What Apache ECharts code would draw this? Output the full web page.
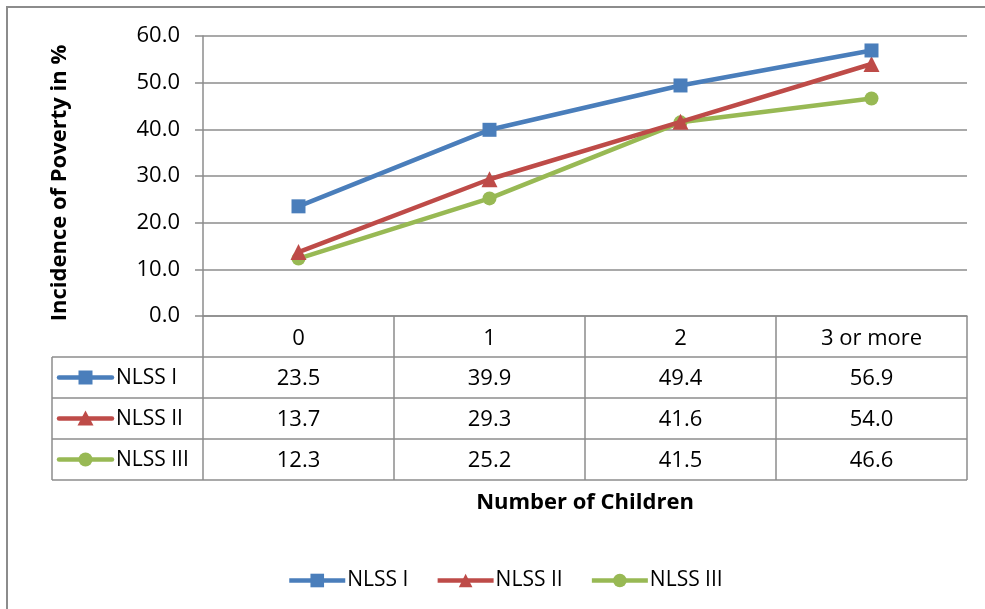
<!DOCTYPE html>
<html>
<head>
<meta charset="utf-8">
<script src="https://cdn.jsdelivr.net/npm/echarts@6/dist/echarts.min.js"></script>
<style>
  html, body { margin: 0; padding: 0; background: #ffffff; }
  #chart { width: 985px; height: 609px; }
</style>
</head>
<body>
<div id="chart"></div>
<script>
// Poverty incidence by number of children, three survey rounds
const categories = ['0', '1', '2', '3 or more'];
const seriesNames = ['NLSS I', 'NLSS II', 'NLSS III'];
const nlss1 = [23.5, 39.9, 49.4, 56.9];
const nlss2 = [13.7, 29.3, 41.6, 54.0];
const nlss3 = [12.3, 25.2, 41.5, 46.6];
const yTicks = [0, 10, 20, 30, 40, 50, 60];

const seriesValues = [nlss1, nlss2, nlss3];
const colors = ['#4A7EBB', '#BE4B48', '#98B954'];
const symbols = ['rect', 'triangle', 'circle'];
const FONT = '"Open Sans", Lato, sans-serif';
const FS = 22;
const FS_BOLD = 22;
const GRID_COLOR = '#8c8c8c';

const chart = echarts.init(document.getElementById('chart'), null, { renderer: 'canvas' });

const grid = { left: 203, right: 18, top: 36, bottom: 293 };

const option = {
  animation: false,
  backgroundColor: '#ffffff',
  textStyle: { fontFamily: FONT },
  grid: grid,
  legend: {
    data: seriesNames,
    left: 282,
    top: 565,
    itemWidth: 56,
    itemHeight: 17,
    itemGap: 27,
    lineStyle: { width: 4.5 },
    textStyle: { fontSize: 21, color: '#000', fontFamily: FONT, padding: [0, 0, 0, -3] }
  },
  xAxis: {
    type: 'category',
    data: categories,
    boundaryGap: true,
    axisLine: { show: true, lineStyle: { color: GRID_COLOR, width: 1.5 } },
    axisTick: { show: true, inside: false, length: 41, alignWithLabel: false,
                lineStyle: { color: GRID_COLOR, width: 1.5 } },
    axisLabel: { margin: 12, fontSize: FS, color: '#000', fontFamily: FONT },
    splitLine: { show: false }
  },
  yAxis: {
    type: 'value',
    min: yTicks[0],
    max: yTicks[yTicks.length - 1],
    interval: yTicks[1] - yTicks[0],
    name: 'Incidence of Poverty in %',
    nameLocation: 'middle',
    nameGap: 132,
    nameTextStyle: { fontSize: FS_BOLD, fontWeight: 'bold', color: '#000', fontFamily: FONT,
                     padding: [0, 14, 0, 0] },
    axisLine: { show: true, lineStyle: { color: GRID_COLOR, width: 1.5 } },
    axisTick: { show: true, length: 8, lineStyle: { color: GRID_COLOR, width: 1.5 } },
    axisLabel: { margin: 23, fontSize: FS, color: '#000', fontFamily: FONT,
                 formatter: v => v.toFixed(1) },
    splitLine: { show: true, lineStyle: { color: GRID_COLOR, width: 1.5 } }
  },
  series: seriesNames.map((name, i) => ({
    name: name,
    type: 'line',
    data: seriesValues[i],
    symbol: symbols[i],
    symbolSize: symbols[i] === 'triangle' ? 16 : 14,
    showAllSymbol: true,
    lineStyle: { width: 4.5, color: colors[i] },
    itemStyle: { color: colors[i] },
    z: 10 - i
  }))
};

chart.setOption(option);

// Data table under the plot: column edges follow the category axis bands
const ROW_H = 41;
const headerBottom = 357;
const tableLeft = 52;
const centers = categories.map((c, i) => chart.convertToPixel({ xAxisIndex: 0 }, i));
const band = centers[1] - centers[0];
const colEdges = [centers[0] - band / 2].concat(centers.map(c => c + band / 2));
const plotLeft = colEdges[0];
const plotRight = colEdges[colEdges.length - 1];
const tableBottom = headerBottom + ROW_H * seriesNames.length;

const lineStyle = { stroke: GRID_COLOR, lineWidth: 1.5 };
const elements = [];

// chart-area border
elements.push({
  type: 'rect', silent: true,
  shape: { x: 7, y: 7, width: 1000, height: 620 },
  style: { fill: null, stroke: '#8c8c8c', lineWidth: 2 }
});

// horizontal rules of the table body
for (let r = 0; r <= seriesNames.length; r++) {
  const y = headerBottom + r * ROW_H;
  elements.push({ type: 'line', silent: true,
    shape: { x1: tableLeft, y1: y, x2: plotRight, y2: y }, style: lineStyle });
}
// vertical rules of the table body
elements.push({ type: 'line', silent: true,
  shape: { x1: tableLeft, y1: headerBottom, x2: tableLeft, y2: tableBottom }, style: lineStyle });
colEdges.forEach(x => {
  elements.push({ type: 'line', silent: true,
    shape: { x1: x, y1: headerBottom, x2: x, y2: tableBottom }, style: lineStyle });
});

// row keys, names and values
seriesNames.forEach((name, r) => {
  const cy = headerBottom + r * ROW_H + ROW_H / 2;
  elements.push({ type: 'line', silent: true,
    shape: { x1: 59, y1: cy, x2: 112, y2: cy },
    style: { stroke: colors[r], lineWidth: 4.5, lineCap: 'round' } });
  if (symbols[r] === 'rect') {
    elements.push({ type: 'rect', silent: true,
      shape: { x: 85.5 - 7, y: cy - 7, width: 14, height: 14 }, style: { fill: colors[r] } });
  } else if (symbols[r] === 'triangle') {
    elements.push({ type: 'polygon', silent: true,
      shape: { points: [[85.5, cy - 8], [93.5, cy + 7], [77.5, cy + 7]] }, style: { fill: colors[r] } });
  } else {
    elements.push({ type: 'circle', silent: true,
      shape: { cx: 85.5, cy: cy, r: 7 }, style: { fill: colors[r] } });
  }
  elements.push({ type: 'text', silent: true,
    style: { text: name, x: 116, y: cy + 1, fontSize: 21, fontFamily: FONT, fill: '#000',
             align: 'left', verticalAlign: 'middle' } });
  seriesValues[r].forEach((v, c) => {
    elements.push({ type: 'text', silent: true,
      style: { text: v.toFixed(1), x: centers[c], y: cy + 1, fontSize: FS, fontFamily: FONT,
               fill: '#000', align: 'center', verticalAlign: 'middle' } });
  });
});

// x-axis title below the table
elements.push({ type: 'text', silent: true,
  style: { text: 'Number of Children', x: (plotLeft + plotRight) / 2, y: 503,
           fontSize: FS_BOLD, fontWeight: 'bold', fontFamily: FONT, fill: '#000',
           align: 'center', verticalAlign: 'middle' } });

chart.setOption({ graphic: { elements: elements } });
</script>
</body>
</html>
